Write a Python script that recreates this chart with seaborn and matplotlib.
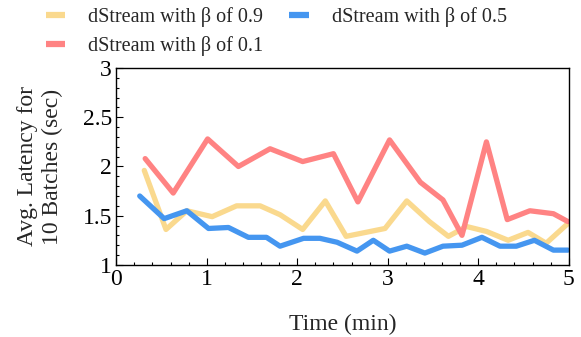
#!/usr/bin/env python3
"""
Avg. latency per 10 batches for dStream with different beta values
"""

import pandas as pd
import seaborn as sns
import matplotlib.pyplot as plt
from matplotlib.ticker import MultipleLocator

# --- data ---
time_b09 = [0.31, 0.55, 0.78, 1.06, 1.33, 1.59, 1.81, 2.06, 2.31, 2.54, 2.97, 3.21,
            3.46, 3.67, 3.87, 4.09, 4.33, 4.55, 4.75, 4.99]
lat_b09 = [1.96, 1.36, 1.55, 1.49, 1.60, 1.60, 1.51, 1.36, 1.65, 1.29, 1.37, 1.65,
           1.44, 1.29, 1.39, 1.34, 1.25, 1.33, 1.22, 1.42]

time_b01 = [0.32, 0.63, 1.01, 1.35, 1.70, 2.06, 2.40, 2.67, 3.02, 3.36, 3.61, 3.82,
            4.09, 4.32, 4.57, 4.83, 4.99]
lat_b01 = [2.08, 1.73, 2.28, 2.00, 2.18, 2.05, 2.13, 1.64, 2.27, 1.84, 1.66, 1.30,
           2.25, 1.46, 1.55, 1.52, 1.44]

time_b05 = [0.26, 0.53, 0.78, 1.02, 1.24, 1.46, 1.66, 1.81, 2.07, 2.25, 2.44, 2.66,
            2.84, 3.02, 3.21, 3.41, 3.61, 3.82, 4.04, 4.24, 4.42, 4.62, 4.83, 4.99]
lat_b05 = [1.70, 1.47, 1.55, 1.37, 1.38, 1.28, 1.28, 1.19, 1.27, 1.27, 1.23, 1.14,
           1.25, 1.14, 1.19, 1.12, 1.19, 1.20, 1.28, 1.19, 1.19, 1.25, 1.15, 1.15]

x_ticks = [0, 1, 2, 3, 4, 5]
y_ticks = [1, 1.5, 2, 2.5, 3]

series = [
    ("dStream with \u03b2 of 0.9", time_b09, lat_b09, "#fad98e"),
    ("dStream with \u03b2 of 0.1", time_b01, lat_b01, "#ff8383"),
    ("dStream with \u03b2 of 0.5", time_b05, lat_b05, "#4596f0"),
]


def main():
    sns.set_style("ticks")
    plt.rcParams['font.family'] = ['Liberation Serif', 'DejaVu Serif']

    fig = plt.figure(figsize=(5.81, 3.37), dpi=100)
    ax = fig.add_axes([0.2, 0.214, 0.779, 0.584])

    for label, t, lat, color in series:
        df = pd.DataFrame({'time': t, 'latency': lat})
        sns.lineplot(data=df, x='time', y='latency', ax=ax, color=color,
                     linewidth=3.8, label=label, sort=False)

    ax.set_xlim(0, 5)
    ax.set_ylim(1, 3)
    ax.set_xticks(x_ticks)
    ax.set_xticklabels([str(v) for v in x_ticks])
    ax.set_yticks(y_ticks)
    ax.set_yticklabels([f'{v:g}' for v in y_ticks])
    ax.xaxis.set_minor_locator(MultipleLocator(0.2))
    ax.yaxis.set_minor_locator(MultipleLocator(0.1))
    ax.tick_params(which='both', direction='in', top=False, right=False,
                   labelsize=17, width=0.8, colors='black')
    ax.tick_params(which='major', length=5, pad=3)
    ax.tick_params(which='minor', length=2.5)
    for s in ax.spines.values():
        s.set_linewidth(1.0)
        s.set_color('black')

    ax.set_xlabel('Time (min)', fontsize=17)
    ax.set_ylabel('Avg. Latency for\n10 Batches (sec)', fontsize=17, linespacing=1.2)
    ax.xaxis.set_label_coords(0.5, -0.25)
    ax.yaxis.set_label_coords(-0.118, 0.5)

    leg = ax.legend(loc='upper left', bbox_to_anchor=(0.079, 0.98),
                    bbox_transform=fig.transFigure, ncol=2, frameon=False,
                    fontsize=14.5, handlelength=0.95, handletextpad=1.15,
                    columnspacing=1.3, labelspacing=0.45, borderaxespad=0,
                    borderpad=0)
    for h in leg.get_lines():
        h.set_linewidth(4.5)
        h.set_solid_capstyle('butt')

    fig.savefig('out.png', dpi=100)


if __name__ == "__main__":
    main()
